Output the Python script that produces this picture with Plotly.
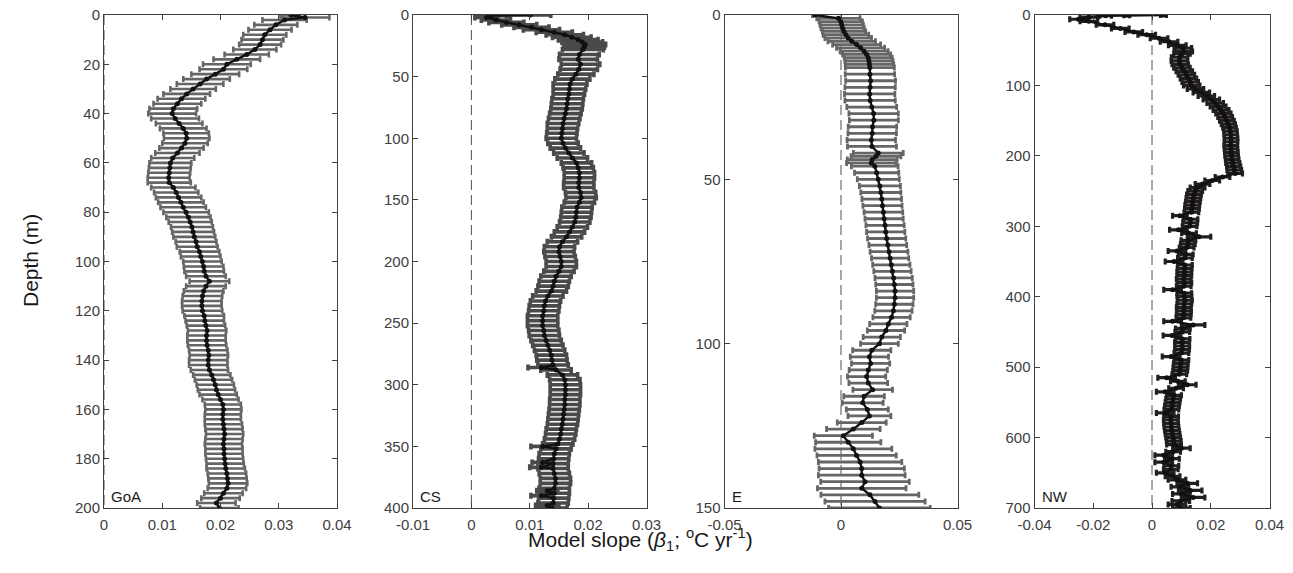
import plotly.graph_objects as go

# ---------------- data ----------------
goa_depth = [0, 1, 2, 4, 6, 8, 10, 12, 14, 16, 18, 20, 22, 24, 26, 28, 30, 32, 34, 36, 38,
             40, 42, 44, 46, 48, 50, 52, 54, 56, 58, 60, 62, 64, 66, 68, 70, 72, 74, 76, 78,
             80, 82, 84, 86, 88, 90, 92, 94, 96, 98, 100, 102, 104, 106, 108, 110, 112, 114,
             116, 118, 120, 122, 124, 126, 128, 130, 132, 134, 136, 138, 140, 142, 144, 146,
             148, 150, 152, 154, 156, 158, 160, 162, 164, 166, 168, 170, 172, 174, 176, 178,
             180, 182, 184, 186, 188, 190, 192, 194, 196, 198, 200]
goa_slope = [0.0321, 0.0345, 0.0310, 0.0295, 0.0285, 0.0276, 0.0272, 0.0268, 0.0259, 0.0245,
             0.0228, 0.0211, 0.0205, 0.0191, 0.0176, 0.0165, 0.0153, 0.0142, 0.0133, 0.0126,
             0.0119, 0.0117, 0.0122, 0.0129, 0.0136, 0.0141, 0.0142, 0.0139, 0.0133, 0.0126,
             0.0118, 0.0114, 0.0113, 0.0112, 0.0111, 0.0112, 0.0119, 0.0124, 0.0128, 0.0132,
             0.0136, 0.0141, 0.0145, 0.0148, 0.0151, 0.0153, 0.0155, 0.0158, 0.0160, 0.0164,
             0.0166, 0.0169, 0.0171, 0.0172, 0.0175, 0.0181, 0.0175, 0.0171, 0.0169, 0.0168,
             0.0168, 0.0169, 0.0172, 0.0173, 0.0175, 0.0177, 0.0176, 0.0176, 0.0177, 0.0179,
             0.0180, 0.0179, 0.0179, 0.0181, 0.0185, 0.0188, 0.0191, 0.0193, 0.0196, 0.0200,
             0.0204, 0.0205, 0.0204, 0.0204, 0.0205, 0.0206, 0.0207, 0.0206, 0.0205, 0.0206,
             0.0206, 0.0207, 0.0208, 0.0209, 0.0211, 0.0212, 0.0213, 0.0211, 0.0205, 0.0200,
             0.0193, 0.0198]
goa_err = [0.0015, 0.0042, 0.0038, 0.0037, 0.0037, 0.0037, 0.0036, 0.0036, 0.0037, 0.0038,
           0.0040, 0.0041, 0.0041, 0.0041, 0.0040, 0.0040, 0.0039, 0.0040, 0.0041, 0.0041,
           0.0041, 0.0041, 0.0041, 0.0040, 0.0040, 0.0039, 0.0039, 0.0039, 0.0038, 0.0038,
           0.0037, 0.0036, 0.0036, 0.0036, 0.0036, 0.0037, 0.0038, 0.0038, 0.0039, 0.0039,
           0.0039, 0.0039, 0.0038, 0.0037, 0.0036, 0.0036, 0.0036, 0.0035, 0.0035, 0.0034,
           0.0034, 0.0033, 0.0034, 0.0034, 0.0034, 0.0034, 0.0034, 0.0034, 0.0034, 0.0034,
           0.0034, 0.0034, 0.0034, 0.0033, 0.0033, 0.0033, 0.0033, 0.0033, 0.0033, 0.0033,
           0.0033, 0.0033, 0.0033, 0.0032, 0.0032, 0.0032, 0.0032, 0.0032, 0.0032, 0.0031,
           0.0031, 0.0031, 0.0031, 0.0031, 0.0032, 0.0032, 0.0032, 0.0032, 0.0032, 0.0032,
           0.0032, 0.0032, 0.0032, 0.0033, 0.0033, 0.0033, 0.0033, 0.0033, 0.0033, 0.0033,
           0.0033, 0.0033]

cs_depth = [0, 0.5, 2, 4, 6, 8, 10, 12, 14, 16, 18, 20, 22, 24, 26, 28, 32, 36, 40, 44, 48,
            52, 56, 60, 64, 68, 72, 76, 80, 84, 88, 92, 96, 100, 104, 108, 112, 116, 120,
            124, 128, 132, 136, 140, 144, 148, 152, 156, 160, 164, 168, 172, 176, 180, 184,
            188, 192, 196, 200, 204, 208, 212, 216, 220, 224, 228, 232, 236, 240, 244, 248,
            252, 256, 260, 264, 268, 272, 276, 280, 284, 286, 288, 292, 296, 300, 304, 308,
            312, 316, 320, 324, 328, 332, 336, 340, 344, 348, 350, 352, 356, 360, 363, 364,
            367, 368, 372, 376, 380, 384, 386, 388, 390, 392, 396, 398, 400]
cs_slope = [0.0101, 0.0035, 0.0026, 0.0042, 0.0060, 0.0082, 0.0103, 0.0120, 0.0142, 0.0160,
            0.0172, 0.0183, 0.0190, 0.0195, 0.0193, 0.0191, 0.0185, 0.0183, 0.0187, 0.0184,
            0.0179, 0.0173, 0.0169, 0.0168, 0.0167, 0.0165, 0.0164, 0.0163, 0.0161, 0.0159,
            0.0157, 0.0156, 0.0155, 0.0154, 0.0157, 0.0161, 0.0167, 0.0173, 0.0180, 0.0183,
            0.0185, 0.0185, 0.0184, 0.0184, 0.0187, 0.0188, 0.0185, 0.0181, 0.0180, 0.0179,
            0.0177, 0.0173, 0.0168, 0.0163, 0.0156, 0.0151, 0.0150, 0.0152, 0.0154, 0.0154,
            0.0150, 0.0145, 0.0142, 0.0140, 0.0137, 0.0131, 0.0127, 0.0125, 0.0124, 0.0122,
            0.0122, 0.0122, 0.0124, 0.0125, 0.0128, 0.0131, 0.0134, 0.0137, 0.0138, 0.0140,
            0.0120, 0.0145, 0.0156, 0.0160, 0.0161, 0.0161, 0.0161, 0.0160, 0.0160, 0.0159,
            0.0158, 0.0157, 0.0156, 0.0154, 0.0153, 0.0151, 0.0148, 0.0122, 0.0145, 0.0142,
            0.0141, 0.0122, 0.0140, 0.0120, 0.0140, 0.0142, 0.0144, 0.0144, 0.0142, 0.0130,
            0.0142, 0.0120, 0.0141, 0.0140, 0.0130, 0.0138]
cs_err = [0.0035, 0.0025, 0.0020, 0.0025, 0.0030, 0.0030, 0.0030, 0.0031, 0.0031, 0.0032,
          0.0033, 0.0034, 0.0035, 0.0035, 0.0035, 0.0035, 0.0034, 0.0033, 0.0033, 0.0032,
          0.0031, 0.0030, 0.0029, 0.0028, 0.0027, 0.0027, 0.0027, 0.0027, 0.0027, 0.0027,
          0.0027, 0.0026, 0.0026, 0.0026, 0.0026, 0.0026, 0.0026, 0.0026, 0.0026, 0.0026,
          0.0026, 0.0026, 0.0026, 0.0026, 0.0026, 0.0026, 0.0026, 0.0026, 0.0026, 0.0026,
          0.0026, 0.0026, 0.0026, 0.0026, 0.0026, 0.0026, 0.0026, 0.0026, 0.0026, 0.0026,
          0.0026, 0.0026, 0.0026, 0.0026, 0.0026, 0.0026, 0.0026, 0.0026, 0.0026, 0.0026,
          0.0026, 0.0026, 0.0026, 0.0026, 0.0026, 0.0026, 0.0026, 0.0026, 0.0026, 0.0026,
          0.0023, 0.0026, 0.0026, 0.0026, 0.0026, 0.0026, 0.0026, 0.0026, 0.0026, 0.0026,
          0.0026, 0.0026, 0.0026, 0.0026, 0.0026, 0.0026, 0.0026, 0.0020, 0.0026, 0.0026,
          0.0026, 0.0018, 0.0026, 0.0020, 0.0026, 0.0026, 0.0026, 0.0026, 0.0026, 0.0018,
          0.0026, 0.0018, 0.0026, 0.0026, 0.0020, 0.0026]

e_depth = [0, 1, 2, 3, 4, 5, 6, 7, 8, 9, 10, 11, 12, 13, 14, 15, 16, 18, 20, 22, 24, 26, 28,
           30, 32, 34, 36, 38, 40, 42, 43, 44, 45, 46, 48, 50, 52, 54, 56, 58, 60, 62, 64,
           66, 68, 70, 72, 74, 76, 78, 80, 82, 84, 86, 88, 90, 92, 94, 96, 98, 100, 102, 104,
           106, 108, 110, 112, 114, 116, 118, 120, 122, 124, 126, 128, 130, 132, 134, 136,
           138, 140, 142, 144, 146, 148, 150]
e_slope = [-0.0112, -0.0011, -0.0001, 0.0003, 0.0007, 0.0013, 0.0021, 0.0031, 0.0046, 0.0067,
           0.0084, 0.0099, 0.0110, 0.0117, 0.0120, 0.0122, 0.0124, 0.0124, 0.0127, 0.0125,
           0.0123, 0.0125, 0.0132, 0.0140, 0.0141, 0.0135, 0.0134, 0.0130, 0.0133, 0.0160,
           0.0150, 0.0134, 0.0130, 0.0145, 0.0153, 0.0160, 0.0167, 0.0171, 0.0175, 0.0178,
           0.0182, 0.0185, 0.0189, 0.0192, 0.0196, 0.0201, 0.0206, 0.0211, 0.0216, 0.0221,
           0.0226, 0.0229, 0.0232, 0.0232, 0.0229, 0.0225, 0.0217, 0.0203, 0.0193, 0.0175,
           0.0165, 0.0132, 0.0122, 0.0127, 0.0117, 0.0110, 0.0117, 0.0136, 0.0099, 0.0093,
           0.0113, 0.0122, 0.0089, 0.0053, 0.0010, 0.0031, 0.0053, 0.0067, 0.0082, 0.0089,
           0.0089, 0.0103, 0.0089, 0.0124, 0.0146, 0.0165]
e_err = [0.0010, 0.0093, 0.0093, 0.0093, 0.0093, 0.0093, 0.0098, 0.0100, 0.0102, 0.0103,
         0.0103, 0.0103, 0.0103, 0.0103, 0.0103, 0.0104, 0.0105, 0.0106, 0.0107, 0.0108,
         0.0108, 0.0108, 0.0107, 0.0106, 0.0105, 0.0104, 0.0104, 0.0104, 0.0105, 0.0107,
         0.0107, 0.0107, 0.0106, 0.0100, 0.0095, 0.0090, 0.0088, 0.0086, 0.0085, 0.0084,
         0.0083, 0.0082, 0.0082, 0.0082, 0.0082, 0.0081, 0.0081, 0.0080, 0.0080, 0.0080,
         0.0080, 0.0080, 0.0080, 0.0080, 0.0080, 0.0080, 0.0080, 0.0080, 0.0080, 0.0080,
         0.0081, 0.0082, 0.0082, 0.0082, 0.0082, 0.0082, 0.0083, 0.0085, 0.0087, 0.0088,
         0.0090, 0.0092, 0.0105, 0.0115, 0.0125, 0.0140, 0.0165, 0.0170, 0.0179, 0.0183,
         0.0186, 0.0190, 0.0190, 0.0210, 0.0215, 0.0218]

nw_depth = [0, 0.5, 1, 3, 6, 9, 14, 19, 24, 28, 33, 38, 43, 47, 52, 55, 60, 65, 70, 75, 80,
            85, 90, 95, 100, 105, 110, 115, 120, 125, 130, 135, 140, 145, 150, 155, 160, 165,
            170, 175, 180, 185, 190, 195, 200, 205, 210, 215, 220, 225, 230, 235, 240, 245,
            250, 255, 260, 265, 270, 275, 280, 285, 290, 295, 300, 305, 310, 315, 320, 325,
            330, 335, 340, 345, 350, 355, 360, 365, 370, 375, 380, 385, 390, 395, 400, 405,
            410, 415, 420, 425, 430, 435, 440, 445, 450, 455, 460, 465, 470, 475, 480, 485,
            490, 495, 500, 505, 510, 515, 520, 525, 530, 535, 540, 545, 550, 555, 560, 565,
            570, 575, 580, 585, 590, 595, 600, 605, 610, 615, 620, 625, 630, 635, 640, 645,
            650, 655, 660, 665, 670, 675, 680, 685, 690, 695, 700]
nw_slope = [0.0039, -0.0086, -0.0158, -0.0215, -0.0250, -0.0215, -0.0160, -0.0108, -0.0062,
            -0.0018, 0.0024, 0.0058, 0.0086, 0.0105, 0.0108, 0.0102, 0.0094, 0.0093, 0.0096,
            0.0102, 0.0110, 0.0117, 0.0124, 0.0130, 0.0135, 0.0148, 0.0168, 0.0185, 0.0202,
            0.0215, 0.0225, 0.0235, 0.0243, 0.0249, 0.0255, 0.0260, 0.0264, 0.0267, 0.0268,
            0.0269, 0.0269, 0.0268, 0.0269, 0.0270, 0.0271, 0.0273, 0.0275, 0.0278, 0.0280,
            0.0283, 0.0240, 0.0205, 0.0172, 0.0155, 0.0147, 0.0143, 0.0141, 0.0139, 0.0137,
            0.0136, 0.0134, 0.0095, 0.0131, 0.0130, 0.0128, 0.0090, 0.0126, 0.0160, 0.0124,
            0.0122, 0.0118, 0.0085, 0.0115, 0.0112, 0.0075, 0.0112, 0.0111, 0.0110, 0.0110,
            0.0108, 0.0110, 0.0108, 0.0070, 0.0110, 0.0110, 0.0112, 0.0110, 0.0108, 0.0109,
            0.0108, 0.0107, 0.0070, 0.0140, 0.0105, 0.0103, 0.0068, 0.0104, 0.0102, 0.0103,
            0.0102, 0.0100, 0.0065, 0.0100, 0.0098, 0.0097, 0.0096, 0.0093, 0.0050, 0.0088,
            0.0120, 0.0082, 0.0045, 0.0075, 0.0072, 0.0070, 0.0068, 0.0066, 0.0045, 0.0065,
            0.0064, 0.0065, 0.0066, 0.0068, 0.0070, 0.0072, 0.0074, 0.0075, 0.0100, 0.0072,
            0.0040, 0.0068, 0.0040, 0.0066, 0.0064, 0.0045, 0.0070, 0.0085, 0.0120, 0.0095,
            0.0130, 0.0100, 0.0140, 0.0098, 0.0085, 0.0100]
nw_err = [0.0010, 0.0010, 0.0020, 0.0030, 0.0030, 0.0030, 0.0030, 0.0030, 0.0030, 0.0030,
          0.0030, 0.0030, 0.0030, 0.0030, 0.0030, 0.0028, 0.0028, 0.0028, 0.0028, 0.0028,
          0.0028, 0.0028, 0.0028, 0.0028, 0.0028, 0.0028, 0.0028, 0.0028, 0.0028, 0.0028,
          0.0027, 0.0027, 0.0026, 0.0025, 0.0025, 0.0024, 0.0023, 0.0023, 0.0023, 0.0023,
          0.0023, 0.0023, 0.0023, 0.0023, 0.0023, 0.0023, 0.0024, 0.0024, 0.0025, 0.0025,
          0.0025, 0.0025, 0.0025, 0.0025, 0.0025, 0.0025, 0.0025, 0.0025, 0.0025, 0.0025,
          0.0025, 0.0025, 0.0025, 0.0025, 0.0025, 0.0030, 0.0025, 0.0040, 0.0025, 0.0025,
          0.0025, 0.0030, 0.0025, 0.0025, 0.0030, 0.0025, 0.0025, 0.0025, 0.0025, 0.0025,
          0.0025, 0.0025, 0.0030, 0.0025, 0.0025, 0.0025, 0.0025, 0.0025, 0.0025, 0.0025,
          0.0025, 0.0030, 0.0040, 0.0025, 0.0025, 0.0030, 0.0025, 0.0025, 0.0025, 0.0025,
          0.0025, 0.0030, 0.0025, 0.0025, 0.0025, 0.0025, 0.0025, 0.0030, 0.0025, 0.0030,
          0.0025, 0.0030, 0.0025, 0.0025, 0.0025, 0.0025, 0.0025, 0.0030, 0.0025, 0.0025,
          0.0025, 0.0025, 0.0025, 0.0025, 0.0025, 0.0025, 0.0025, 0.0030, 0.0025, 0.0030,
          0.0025, 0.0030, 0.0025, 0.0025, 0.0030, 0.0025, 0.0030, 0.0035, 0.0030, 0.0040,
          0.0030, 0.0040, 0.0030, 0.0030, 0.0030]

panel_names = ["GoA", "CS", "E", "NW"]
x_ranges = [[0, 0.04], [-0.01, 0.03], [-0.05, 0.05], [-0.04, 0.04]]
x_tickvals = [[0, 0.01, 0.02, 0.03, 0.04], [-0.01, 0, 0.01, 0.02, 0.03],
              [-0.05, 0, 0.05], [-0.04, -0.02, 0, 0.02, 0.04]]
x_ticktext = [["0", "0.01", "0.02", "0.03", "0.04"], ["-0.01", "0", "0.01", "0.02", "0.03"],
              ["-0.05", "0", "0.05"], ["-0.04", "-0.02", "0", "0.02", "0.04"]]
depth_max = [200, 400, 150, 700]
y_tickvals = [[0, 20, 40, 60, 80, 100, 120, 140, 160, 180, 200],
              [0, 50, 100, 150, 200, 250, 300, 350, 400],
              [0, 50, 100, 150],
              [0, 100, 200, 300, 400, 500, 600, 700]]

# ---------------- figure ----------------
W, H = 1293, 573
x_dom_px = [(104, 337), (413, 646.5), (724.5, 957.5), (1034.5, 1269.5)]
y_dom = [1 - 508 / H, 1 - 15 / H]

AX = "#404040"
FONT = "Liberation Sans, Arial, Helvetica, sans-serif"

# (depth, slope, error, error-bar colour, error-bar thickness)
panels = [
    (goa_depth, goa_slope, goa_err, "#666666", 2.6),
    (cs_depth, cs_slope, cs_err, "#4a4a4a", 3.6),
    (e_depth, e_slope, e_err, "#666666", 2.8),
    (nw_depth, nw_slope, nw_err, "#231f20", 3.2),
]

fig = go.Figure()
layout = dict(width=W, height=H, margin=dict(l=0, r=0, t=0, b=0, autoexpand=False),
              paper_bgcolor="white", plot_bgcolor="white", showlegend=False,
              font=dict(family=FONT, color=AX))
annotations = []

for i, (dep, slp, err, ecol, eth) in enumerate(panels):
    k = "" if i == 0 else str(i + 1)
    xa, ya = "x" + k, "y" + k
    # zero line
    fig.add_trace(go.Scatter(x=[0, 0], y=[0, depth_max[i]], xaxis=xa, yaxis=ya,
                             mode="lines", line=dict(color="#505050", width=1, dash="10px,5px"),
                             hoverinfo="skip"))
    # error bars
    fig.add_trace(go.Scatter(x=slp, y=dep, xaxis=xa, yaxis=ya, mode="markers",
                             marker=dict(size=1, color="rgba(0,0,0,0)"),
                             error_x=dict(type="data", array=err, visible=True,
                                          color=ecol, thickness=eth, width=3)))
    # centre line with dots
    fig.add_trace(go.Scatter(x=slp, y=dep, xaxis=xa, yaxis=ya, mode="lines+markers",
                             line=dict(color="#111111", width=2.4),
                             marker=dict(size=5, color="#111111")))
    x0, x1 = x_dom_px[i]
    layout["xaxis" + k] = dict(
        domain=[x0 / W, x1 / W], anchor=ya, range=x_ranges[i], automargin=False,
        tickvals=x_tickvals[i], ticktext=x_ticktext[i], ticklabelstandoff=3,
        ticks="inside", ticklen=5, tickcolor=AX, showline=True, linecolor=AX,
        linewidth=1, mirror="ticks", showgrid=False, zeroline=False,
        tickfont=dict(size=15, color=AX, family=FONT))
    layout["yaxis" + k] = dict(
        domain=y_dom, anchor=xa, range=[depth_max[i], 0], automargin=False,
        tickvals=y_tickvals[i], ticks="inside", ticklen=5, tickcolor=AX,
        showline=True, linecolor=AX, linewidth=1, mirror="ticks", showgrid=False,
        zeroline=False, tickfont=dict(size=15, color=AX, family=FONT))
    annotations.append(dict(text=panel_names[i], xref="paper", yref="paper",
                            x=(x0 + 5) / W, y=1 - 496 / H, xanchor="left",
                            yanchor="middle", showarrow=False,
                            font=dict(size=15, color="#1a1a1a", family=FONT)))

annotations.append(dict(text="Depth (m)", xref="paper", yref="paper", x=30 / W,
                        y=1 - 261 / H, textangle=-90, showarrow=False,
                        xanchor="center", yanchor="middle",
                        font=dict(size=21, color="#1a1a1a", family=FONT)))
annotations.append(dict(text="Model slope (<i>β</i><sub>1</sub>; <sup>o</sup>C yr<sup>-1</sup>)",
                        xref="paper", yref="paper", x=640 / W, y=1 - 539 / H,
                        showarrow=False, xanchor="center", yanchor="middle",
                        font=dict(size=21, color="#1a1a1a", family=FONT)))
layout["annotations"] = annotations
fig.update_layout(**layout)
fig.write_html("out.html")
